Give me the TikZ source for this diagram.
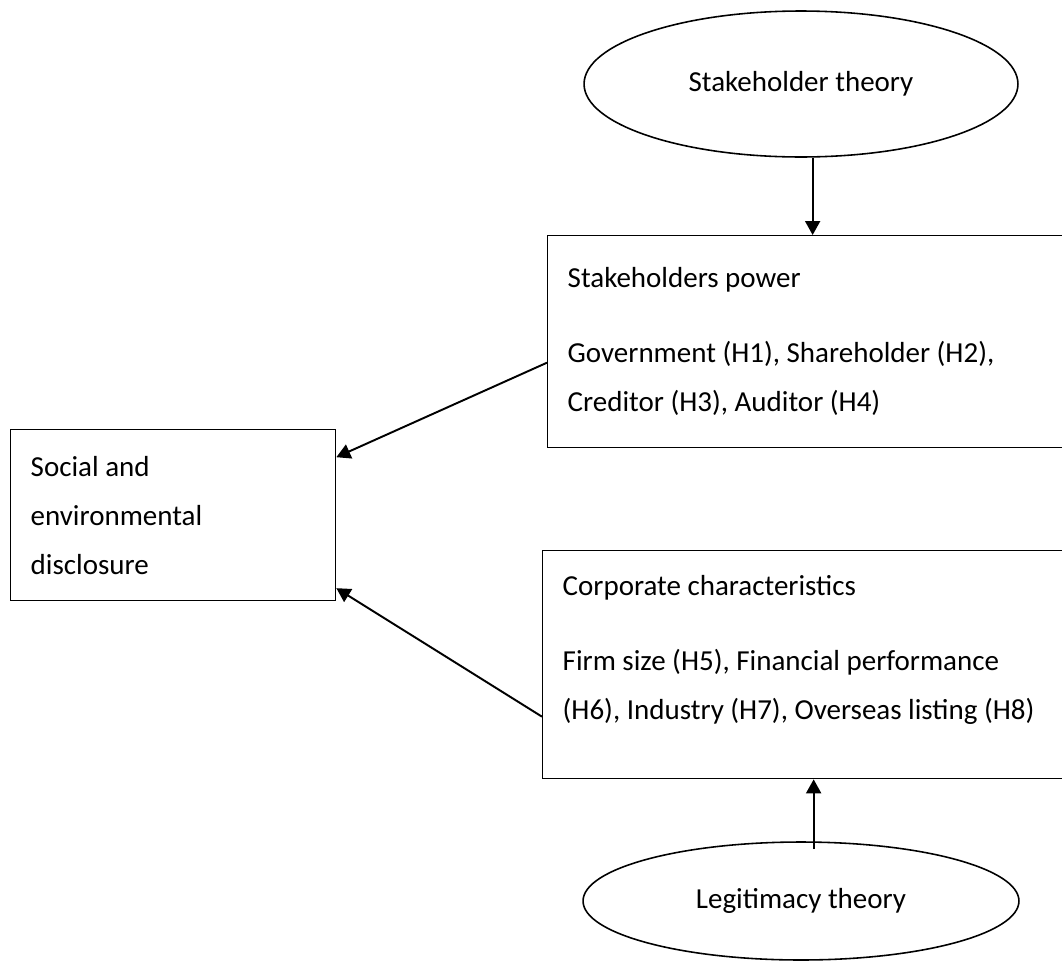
\documentclass[tikz,border=0pt]{standalone}
\usepackage{fontspec}
\setmainfont{Carlito}
\usetikzlibrary{arrows.meta,shapes.geometric}
\begin{document}
\begin{tikzpicture}[x=0.02cm,y=-0.02cm,
	every node/.style={font=\fontsize{16.5}{27.9}\selectfont},
	box/.style={draw,line width=0.8pt,rectangle,anchor=north west,align=flush left,inner xsep=0.4cm},
	theory/.style={draw,line width=0.9pt,ellipse,inner sep=0},
	arr/.style={line width=1.1pt,-{Triangle[length=0.28cm,width=0.3cm]}}]
					\useasboundingbox (0,0) rectangle (1062,964);
					\clip (0,0) rectangle (1062,964);
					\node[theory,minimum width=8.68cm,minimum height=2.92cm] (stake) at (801,84){Stakeholder theory};
					\node[box,text width=9.8cm,minimum height=4.24cm] (power) at (547,235){Stakeholders power\\[0.52cm]Government (H1), Shareholder (H2),\\Creditor (H3), Auditor (H4)};
					\node[box,text width=5.7cm,minimum height=3.42cm] (soc) at (10,429){Social and\\environmental\\disclosure};
					\node[box,text width=10.04cm,minimum height=4.56cm] (corp) at (542,550){Corporate characteristics\\[0.52cm]Firm size (H5), Financial performance\\(H6), Industry (H7), Overseas listing (H8)\\[-0.28cm]\mbox{}};
					\node[theory,minimum width=8.72cm,minimum height=2.36cm] (legit) at (801,901){Legitimacy theory};
					% theories feed the two groups
					\draw[arr] (stake.south -| power.north)--(power.north);
					\draw[arr] ([yshift=-0.16cm]legit.north -| corp.south)--(corp.south);
					% both groups point at the disclosure box
					\draw[arr] ([yshift=-0.42cm]power.west)--([yshift=1.16cm]soc.east);
					\draw[arr] ([yshift=-1.04cm]corp.west)--([yshift=-1.46cm]soc.east);
					\end{tikzpicture}
\end{document}
